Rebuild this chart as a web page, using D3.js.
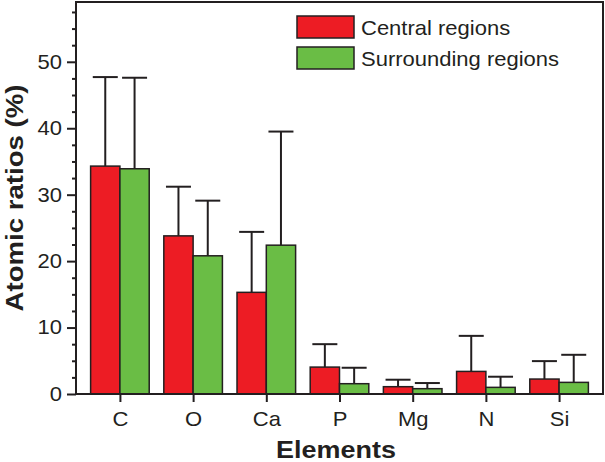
<!DOCTYPE html>
<html>
<head>
<meta charset="utf-8">
<script src="https://cdn.jsdelivr.net/npm/d3@7"></script>
<style>
  html, body { margin: 0; padding: 0; background: #fff; }
  svg { display: block; }
  text { font-family: "Liberation Sans", Arial, sans-serif; fill: #231f20; }
</style>
</head>
<body>
<script>
// ---- data ----
const categories = ["C", "O", "Ca", "P", "Mg", "N", "Si"];
const seriesNames = ["Central regions", "Surrounding regions"];
const centralValues = [34.3, 23.8, 15.3, 4.05, 1.1, 3.4, 2.25];
const centralErrors = [13.4, 7.4, 9.1, 3.45, 1.05, 5.35, 2.7];
const surroundValues = [33.9, 20.8, 22.4, 1.55, 0.8, 1.0, 1.75];
const surroundErrors = [13.7, 8.3, 17.1, 2.4, 0.85, 1.6, 4.15];
const seriesColors = ["#ed1c24", "#6abd45"];
const yMajorTicks = [0, 10, 20, 30, 40, 50];
const yMinorTicks = [2.5, 5, 7.5, 12.5, 15, 17.5, 22.5, 25, 27.5, 32.5, 35, 37.5, 42.5, 45, 47.5, 52.5, 55, 57.5];
const xTitle = "Elements";
const yTitle = "Atomic ratios (%)";

const W = 605, H = 462;
const L = 76, R = 603, T = 2, B = 394;
const ink = "#231f20";
const SX = 1.1; // horizontal glyph widening to match the reference typeface

const svg = d3.select("body").append("svg").attr("width", W).attr("height", H);

const x = d3.scalePoint().domain(categories).range([L, R]).padding(0.6);
const sub = d3.scaleBand().domain(seriesNames).range([-29.3, 29.3]).padding(0);
const y = d3.scaleLinear().domain([0, 59]).range([B, T]);

const rows = categories.map((c, i) => ({
  cat: c,
  vals: [
    { s: seriesNames[0], v: centralValues[i], e: centralErrors[i], col: seriesColors[0] },
    { s: seriesNames[1], v: surroundValues[i], e: surroundErrors[i], col: seriesColors[1] }
  ]
}));

const g = svg.append("g");
const groups = g.selectAll("g.cat").data(rows).join("g")
  .attr("transform", d => `translate(${x(d.cat)},0)`);

// error bars
groups.selectAll("g.err").data(d => d.vals).join("g").each(function(d) {
  const cx = sub(d.s) + sub.bandwidth() / 2;
  const sel = d3.select(this);
  sel.append("line").attr("x1", cx).attr("x2", cx)
    .attr("y1", y(d.v)).attr("y2", y(d.v + d.e))
    .attr("stroke", ink).attr("stroke-width", 2);
  sel.append("line").attr("x1", cx - 12.5).attr("x2", cx + 12.5)
    .attr("y1", y(d.v + d.e)).attr("y2", y(d.v + d.e))
    .attr("stroke", ink).attr("stroke-width", 2);
});

// bars
groups.selectAll("rect").data(d => d.vals).join("rect")
  .attr("x", d => sub(d.s))
  .attr("width", sub.bandwidth())
  .attr("y", d => y(d.v))
  .attr("height", d => B - y(d.v))
  .attr("fill", d => d.col)
  .attr("stroke", ink).attr("stroke-width", 1.5);

// frame
svg.append("rect").attr("x", L).attr("y", T).attr("width", R - L).attr("height", B - T)
  .attr("fill", "none").attr("stroke", ink).attr("stroke-width", 2);

// y axis
const yAxisMajor = d3.axisLeft(y).tickValues(yMajorTicks).tickSize(9).tickPadding(5)
  .tickFormat(d3.format("d"));
const ya = svg.append("g").attr("transform", `translate(${L},0)`).call(yAxisMajor);
ya.select(".domain").remove();
ya.selectAll(".tick line").attr("stroke", ink).attr("stroke-width", 2);
ya.selectAll(".tick text").attr("font-size", 20).attr("fill", ink)
  .attr("x", 0).attr("transform", `translate(-14,0) scale(${SX},1)`)
  .style("font-family", '"Liberation Sans", Arial, sans-serif');

const yAxisMinor = d3.axisLeft(y).tickValues(yMinorTicks).tickSize(4).tickFormat("");
const ym = svg.append("g").attr("transform", `translate(${L},0)`).call(yAxisMinor);
ym.select(".domain").remove();
ym.selectAll(".tick line").attr("stroke", ink).attr("stroke-width", 2);

// x axis
const xAxis = d3.axisBottom(x).tickSize(8).tickPadding(10);
const xa = svg.append("g").attr("transform", `translate(0,${B})`).call(xAxis);
xa.select(".domain").remove();
xa.selectAll(".tick line").attr("stroke", ink).attr("stroke-width", 2);
xa.selectAll(".tick text").attr("font-size", 20).attr("fill", ink)
  .attr("y", 0).attr("dy", 0).attr("transform", `translate(0,32) scale(${SX},1)`)
  .style("font-family", '"Liberation Sans", Arial, sans-serif');

// titles
svg.append("text").attr("transform", `translate(336,458) scale(${SX},1)`)
  .attr("text-anchor", "middle")
  .attr("font-size", 24.5).attr("font-weight", "bold").text(xTitle);
svg.append("text").attr("transform", `translate(23,${(T + B) / 2}) rotate(-90) scale(1.15,1)`)
  .attr("text-anchor", "middle").attr("font-size", 24).attr("font-weight", "bold").text(yTitle);

// legend
const leg = svg.append("g").attr("transform", "translate(297,16)");
seriesNames.forEach((s, i) => {
  leg.append("rect").attr("x", 0).attr("y", i * 31).attr("width", 57).attr("height", 22)
    .attr("fill", seriesColors[i]).attr("stroke", ink).attr("stroke-width", 1.5);
  leg.append("text").attr("transform", `translate(64,${i * 31 + 19}) scale(${SX},1)`)
    .attr("font-size", 20).text(s);
});
</script>
</body>
</html>
